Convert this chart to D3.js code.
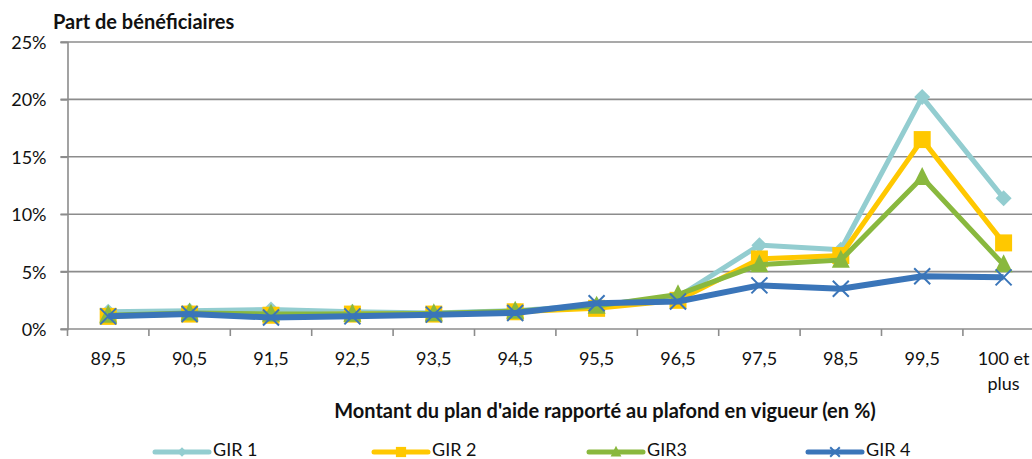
<!DOCTYPE html>
<html>
<head>
<meta charset="utf-8">
<script src="https://cdn.jsdelivr.net/npm/d3@7"></script>
<style>
  html, body { margin: 0; padding: 0; background: #fff; }
  svg { display: block; font-family: Lato, "Open Sans", sans-serif; }
</style>
</head>
<body>
<svg id="chart" width="1032" height="459"></svg>
<script>
// Categories: plan amount relative to the ceiling (%)
const categories = ["89,5", "90,5", "91,5", "92,5", "93,5", "94,5", "95,5", "96,5", "97,5", "98,5", "99,5", "100 et plus"];

// Share of beneficiaries (%) by GIR level
const gir1 = [1.5, 1.6, 1.7, 1.5, 1.4, 1.6, 2.1, 2.8, 7.3, 6.9, 20.2, 11.4];
const gir2 = [1.1, 1.3, 1.2, 1.3, 1.3, 1.5, 1.8, 2.5, 6.1, 6.4, 16.5, 7.5];
const gir3 = [1.2, 1.4, 1.3, 1.3, 1.35, 1.55, 2.0, 3.0, 5.6, 6.0, 13.2, 5.6];
const gir4 = [1.1, 1.3, 1.0, 1.1, 1.25, 1.4, 2.25, 2.4, 3.8, 3.5, 4.6, 4.5];

const seriesNames = ["GIR 1", "GIR 2", "GIR3", "GIR 4"];
const yTicks = [0, 5, 10, 15, 20, 25];

const series = [
  { name: seriesNames[0], values: gir1, color: "#93CDD0", marker: "diamond" },
  { name: seriesNames[1], values: gir2, color: "#FFC800", marker: "square" },
  { name: seriesNames[2], values: gir3, color: "#89B83E", marker: "triangle" },
  { name: seriesNames[3], values: gir4, color: "#3A75B9", marker: "cross" }
];

const svg = d3.select("#chart");
const plotLeft = 67.5, plotBottom = 329, plotTop = 42;
const bandW = 81.4;
const labelSize = 18, boldSize = 20;

const x = d3.scaleBand()
  .domain(categories)
  .range([plotLeft, plotLeft + bandW * categories.length])
  .paddingInner(0).paddingOuter(0);
const y = d3.scaleLinear().domain([0, 25]).range([plotBottom, plotTop]);
const cx = c => x(c) + x.bandwidth() / 2;

// Horizontal gridlines
svg.append("g")
  .selectAll("line")
  .data(yTicks)
  .join("line")
  .attr("x1", plotLeft - 7).attr("x2", 1032)
  .attr("y1", d => y(d)).attr("y2", d => y(d))
  .attr("stroke", "#8c8c8c").attr("stroke-width", 1.6);

// Y axis
const yAxis = svg.append("g")
  .attr("transform", `translate(${plotLeft},0)`)
  .call(d3.axisLeft(y).tickValues(yTicks).tickSize(7).tickFormat(d => d + "%"));
yAxis.select(".domain").attr("stroke", "#8c8c8c").attr("stroke-width", 1.6);
yAxis.selectAll(".tick line").attr("stroke", "#8c8c8c").attr("stroke-width", 1.6);
yAxis.selectAll(".tick text")
  .attr("x", -21).attr("dy", "0.36em")
  .attr("font-size", labelSize).attr("fill", "#111").attr("font-family", "Lato, sans-serif");

// X axis: ticks between categories
const xAxis = svg.append("g").attr("transform", `translate(0,${plotBottom})`);
const bounds = d3.range(categories.length + 1).map(i => plotLeft + i * x.bandwidth());
xAxis.selectAll("line")
  .data(bounds)
  .join("line")
  .attr("x1", d => d).attr("x2", d => d)
  .attr("y1", 0).attr("y2", 7)
  .attr("stroke", "#8c8c8c").attr("stroke-width", 1.6);

xAxis.selectAll("text")
  .data(categories)
  .join("text")
  .attr("x", d => cx(d))
  .attr("y", 35.5)
  .attr("text-anchor", "middle")
  .attr("font-size", labelSize).attr("fill", "#111")
  .each(function(d) {
    const parts = d === "100 et plus" ? ["100 et", "plus"] : [d];
    d3.select(this).selectAll("tspan")
      .data(parts)
      .join("tspan")
      .attr("x", cx(d))
      .attr("dy", (p, i) => i === 0 ? 0 : 25)
      .text(p => p);
  });

// Titles
svg.append("text")
  .attr("x", 53).attr("y", 29)
  .attr("font-size", boldSize).attr("font-weight", "bold").attr("fill", "#111")
  .text("Part de bénéficiaires");

svg.append("text")
  .attr("x", 605).attr("y", 418)
  .attr("text-anchor", "middle")
  .attr("font-size", boldSize).attr("font-weight", "bold").attr("fill", "#111")
  .text("Montant du plan d'aide rapporté au plafond en vigueur (en %)");

// Marker drawing
function drawMarker(g, type, color, px, py, scale) {
  const s = scale || 1;
  if (type === "diamond") {
    const r = 8 * s;
    g.append("path")
      .attr("d", `M${px},${py - r}L${px + r},${py}L${px},${py + r}L${px - r},${py}Z`)
      .attr("fill", color);
  } else if (type === "square") {
    const h = 8.5 * s;
    g.append("rect")
      .attr("x", px - h).attr("y", py - h)
      .attr("width", 2 * h).attr("height", 2 * h)
      .attr("fill", color);
  } else if (type === "triangle") {
    const h = 9 * s;
    g.append("path")
      .attr("d", `M${px},${py - h * 1.15}L${px + h},${py + h * 0.85}L${px - h},${py + h * 0.85}Z`)
      .attr("fill", color);
  } else if (type === "cross") {
    const h = 8 * s;
    g.append("path")
      .attr("d", `M${px - h},${py - h}L${px + h},${py + h}M${px - h},${py + h}L${px + h},${py - h}`)
      .attr("stroke", color).attr("stroke-width", 2).attr("fill", "none");
  }
}

// Lines and markers
const line = d3.line().x((d, i) => cx(categories[i])).y(d => y(d));
series.forEach(s => {
  const g = svg.append("g");
  g.append("path")
    .datum(s.values)
    .attr("d", line)
    .attr("fill", "none")
    .attr("stroke", s.color)
    .attr("stroke-width", s.marker === "cross" ? 6 : 5)
    .attr("stroke-linejoin", "round");
  s.values.forEach((v, i) => drawMarker(g, s.marker, s.color, cx(categories[i]), y(v)));
});

// Legend
const legendX = [155, 374, 589, 808];
const legendY = 452;
series.forEach((s, i) => {
  const g = svg.append("g");
  const x0 = legendX[i];
  g.append("line")
    .attr("x1", x0).attr("x2", x0 + 54)
    .attr("y1", legendY).attr("y2", legendY)
    .attr("stroke", s.color).attr("stroke-width", 5).attr("stroke-linecap", "round");
  drawMarker(g, s.marker, s.color, x0 + 27, legendY, 0.6);
  g.append("text")
    .attr("x", x0 + 58).attr("y", legendY + 3.5)
    .attr("font-size", labelSize).attr("fill", "#111")
    .text(s.name);
});
</script>
</body>
</html>
